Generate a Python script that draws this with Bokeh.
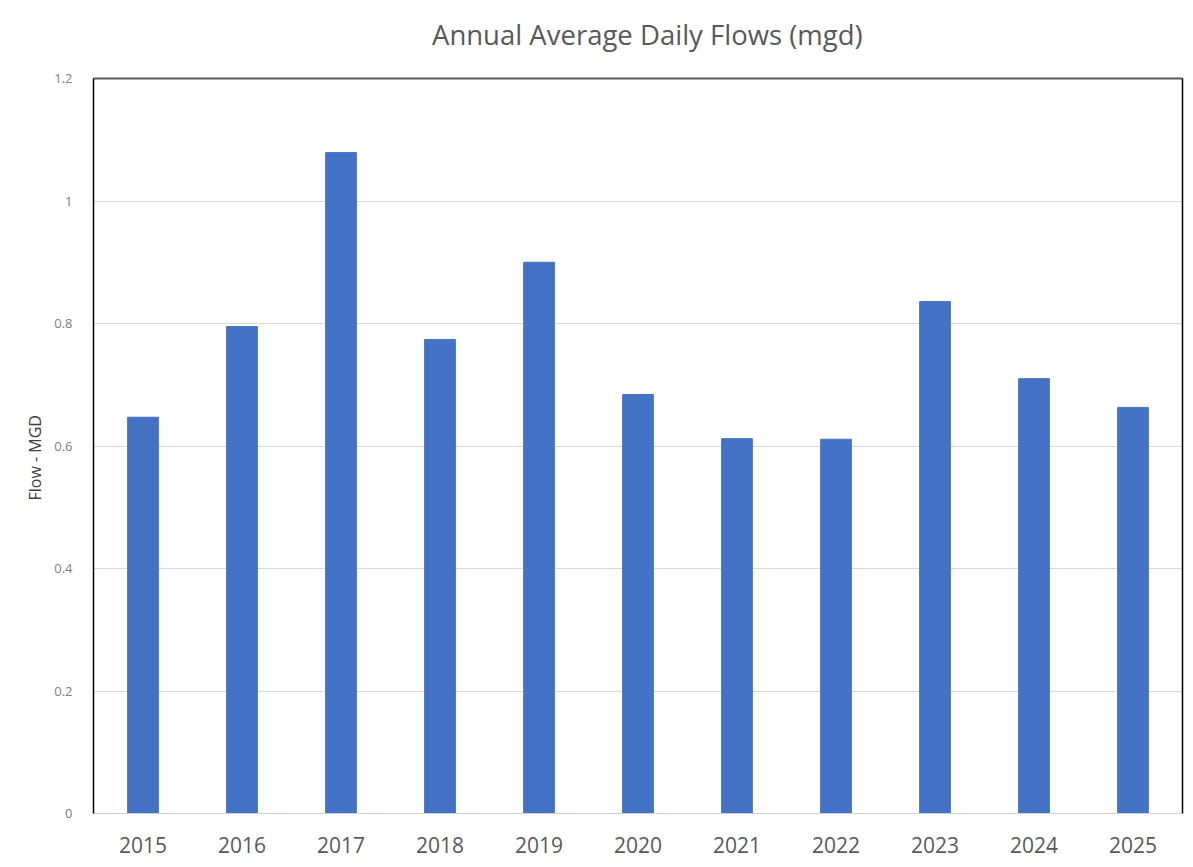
from bokeh.plotting import figure
from bokeh.models import FixedTicker, CustomJSTickFormatter, LinearAxis, Range1d, Title, Div
from bokeh.layouts import column
from bokeh.embed import file_html
from bokeh.resources import INLINE

years = ["2015", "2016", "2017", "2018", "2019", "2020", "2021", "2022", "2023", "2024", "2025"]
flows = [0.647, 0.795, 1.079, 0.774, 0.900, 0.684, 0.612, 0.611, 0.836, 0.710, 0.663]
y_ticks = [0, 0.2, 0.4, 0.6, 0.8, 1.0, 1.2]
title_text = "Annual Average Daily Flows (mgd)"

header = Div(
    text=('<div style="font-family:\'Open Sans\'; font-size:27.5px; color:#595959; '
          'text-align:left; padding-left:432px; padding-top:16px; line-height:normal; '
          'white-space:nowrap;">' + title_text + '</div>'),
    width=1193, height=60, margin=0,
)

p = figure(
    x_range=years, y_range=Range1d(0, 1.2),
    width=1193, height=807,
    output_backend="svg", toolbar_location=None,
    min_border_left=93, min_border_right=11, min_border_top=18, min_border_bottom=54,
    margin=0,
)
p.outline_line_color = None
p.background_fill_color = "white"
p.border_fill_color = "white"

xa = p.below[0]
ya = p.left[0]

p.vbar(x=years, top=flows, width=0.31, color="#4472C4")

# top and right frame lines
top_axis = LinearAxis(ticker=FixedTicker(ticks=[]), axis_line_color="#595959", axis_line_width=2,
                      major_label_text_font_size="0px", major_tick_line_color=None, minor_tick_line_color=None,
                      major_label_standoff=0)
p.add_layout(top_axis, "above")
right_axis = LinearAxis(ticker=FixedTicker(ticks=[]), axis_line_color="black", axis_line_width=1.5,
                        major_label_text_font_size="0px", major_tick_line_color=None, minor_tick_line_color=None,
                        major_label_standoff=0)
p.add_layout(right_axis, "right")

# y axis
ya.ticker = FixedTicker(ticks=y_ticks)
ya.formatter = CustomJSTickFormatter(code="return String(Math.round(tick*10)/10);")
ya.axis_line_color = "black"
ya.axis_line_width = 1.5
ya.major_tick_line_color = None
ya.minor_tick_line_color = None
ya.major_label_text_font = "Open Sans"
ya.major_label_text_font_size = "13px"
ya.major_label_text_color = "#808080"
ya.major_label_standoff = 15

p.add_layout(Title(text="Flow - MGD", align="left", offset=313,
                   text_font="Open Sans", text_font_size="16px", text_font_style="normal",
                   text_color="#404040", standoff=12), "left")

# x axis
xa.axis_line_color = "#c9d3e0"
xa.major_tick_line_color = None
xa.minor_tick_line_color = None
xa.major_label_text_font = "Open Sans"
xa.major_label_text_font_size = "21px"
xa.major_label_text_color = "#595959"
xa.major_label_standoff = 17

p.xgrid.grid_line_color = None
p.ygrid.grid_line_color = "#d9d9d9"
p.ygrid.ticker = FixedTicker(ticks=y_ticks)

layout = column(header, p, spacing=0, margin=0)

open("out.html", "w").write(file_html(layout, INLINE))
